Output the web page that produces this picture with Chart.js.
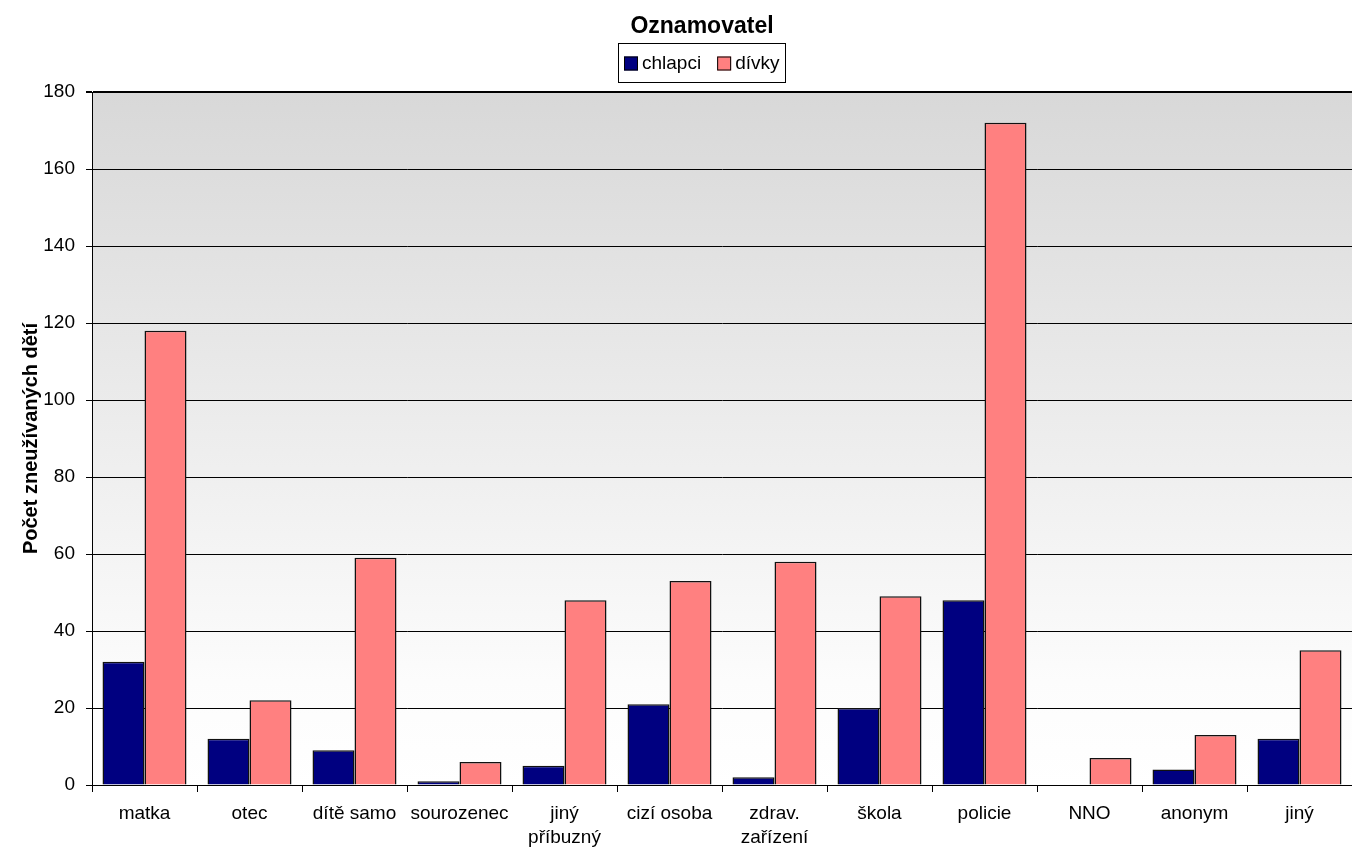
<!DOCTYPE html>
<html>
<head>
<meta charset="utf-8">
<script src="https://cdn.jsdelivr.net/npm/chart.js@4"></script>
<style>
    html, body { margin: 0; padding: 0; background: #ffffff; }
    #chart { display: block; }
</style>
</head>
<body>
<canvas id="chart" width="1352" height="852"></canvas>
<script>
const categories = [
    "matka",
    "otec",
    "dítě samo",
    "sourozenec",
    ["jiný", "příbuzný"],
    "cizí osoba",
    ["zdrav.", "zařízení"],
    "škola",
    "policie",
    "NNO",
    "anonym",
    "jiný"
];

const chlapci = [32, 12, 9, 1, 5, 21, 2, 20, 48, 0, 4, 12];

const divky = [118, 22, 59, 6, 48, 53, 58, 49, 172, 7, 13, 35];

const yTicks = [0, 20, 40, 60, 80, 100, 120, 140, 160, 180];

const chartTitle = "Oznamovatel";

const yTitle = "Počet zneužívaných dětí";

const fontFamily = "'Liberation Sans', Arial, sans-serif";

// grey-to-white fill behind the bars
const plotBackground = {
    id: "plotBackground",
    beforeDraw(chart) {
        const { ctx, chartArea } = chart;
        const grad = ctx.createLinearGradient(0, chartArea.top, 0, chartArea.bottom);
        grad.addColorStop(0, "#d8d8d8");
        grad.addColorStop(0.85, "#fcfcfc");
        grad.addColorStop(1, "#ffffff");
        ctx.save();
        ctx.fillStyle = grad;
        ctx.fillRect(chartArea.left, chartArea.top,
            chartArea.right - chartArea.left, chartArea.bottom - chartArea.top);
        ctx.restore();
    }
};

// title and framed legend, centred a bit left of the plot middle like the original
const header = {
    id: "header",
    afterDraw(chart) {
        const ctx = chart.ctx;
        const cx = 702;
        ctx.save();
        ctx.fillStyle = "#000000";
        ctx.textAlign = "center";
        ctx.textBaseline = "alphabetic";
        ctx.font = "bold 23px " + fontFamily;
        ctx.fillText(chartTitle, cx, 33);

        ctx.font = "19px " + fontFamily;
        const items = chart.data.datasets.map(ds => ({
            text: ds.label,
            color: ds.backgroundColor,
            w: ctx.measureText(ds.label).width
        }));
        const box = 14, gapBox = 4, gapItem = 16, padX = 6;
        let total = padX * 2;
        items.forEach((it, i) => {
            total += box + gapBox + it.w + (i ? gapItem : 0);
        });
        const left = Math.round(cx - total / 2);
        const top = 43, height = 39;
        ctx.strokeStyle = "#000000";
        ctx.lineWidth = 1;
        ctx.strokeRect(left + 0.5, top + 0.5, Math.round(total), height);

        let x = left + padX;
        const midY = top + height / 2 + 1;
        ctx.textAlign = "left";
        ctx.textBaseline = "middle";
        items.forEach((it, i) => {
            if (i) x += gapItem;
            ctx.fillStyle = it.color;
            ctx.fillRect(x, midY - box / 2, box, box);
            ctx.strokeStyle = "#000000";
            ctx.strokeRect(x + 0.5, midY - box / 2 + 0.5, box - 1, box - 1);
            x += box + gapBox;
            ctx.fillStyle = "#000000";
            ctx.fillText(it.text, x, midY);
            x += it.w;
        });
        ctx.restore();
    }
};

new Chart(document.getElementById("chart"), {
    type: "bar",
    data: {
        labels: categories,
        datasets: [
            {
                label: "chlapci",
                data: chlapci,
                backgroundColor: "#000080",
                borderColor: "#111111",
                borderWidth: 1.5
            },
            {
                label: "dívky",
                data: divky,
                backgroundColor: "#ff8080",
                borderColor: "#111111",
                borderWidth: 1.5
            }
        ]
    },
    options: {
        responsive: false,
        animation: false,
        layout: { padding: { left: 19, right: 0, top: 92, bottom: 0 } },
        datasets: {
            bar: { categoryPercentage: 0.8, barPercentage: 1.0 }
        },
        plugins: {
            title: { display: false },
            legend: { display: false },
            tooltip: { enabled: false }
        },
        scales: {
            x: {
                afterFit(axis) {
                    axis.height = 67;
                },
                grid: {
                    offset: true,
                    drawOnChartArea: false,
                    color: "#000000",
                    tickLength: 7
                },
                border: { color: "#000000" },
                ticks: {
                    color: "#000000",
                    font: { family: fontFamily, size: 19, lineHeight: 1.3 },
                    maxRotation: 0,
                    autoSkip: false,
                    padding: 9
                }
            },
            y: {
                min: 0,
                max: 180,
                afterFit(axis) {
                    axis.width = 73;
                },
                afterBuildTicks(axis) {
                    axis.ticks = yTicks.map(v => ({ value: v }));
                },
                grid: {
                    color: "#000000",
                    lineWidth: ctx => (ctx.tick && ctx.tick.value === 180 ? 2 : 1),
                    tickLength: 6
                },
                border: { color: "#000000" },
                ticks: {
                    color: "#000000",
                    font: { family: fontFamily, size: 19 },
                    padding: 11
                },
                title: {
                    display: true,
                    text: yTitle,
                    color: "#000000",
                    font: { family: fontFamily, size: 20, weight: "bold", lineHeight: 1.2 },
                    padding: 0
                }
            }
        }
    },
    plugins: [plotBackground, header]
});
</script>
</body>
</html>
